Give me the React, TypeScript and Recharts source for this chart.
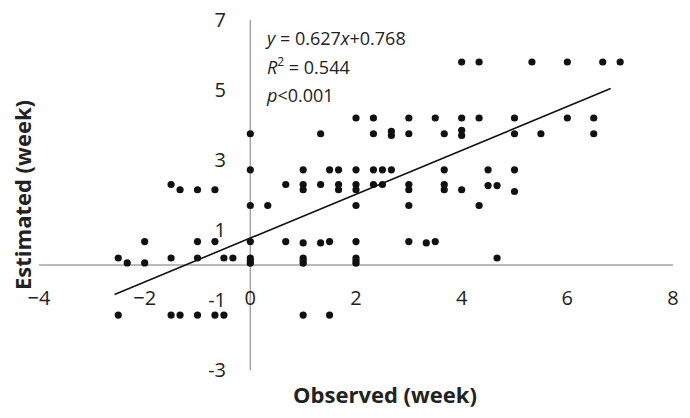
import React from "react";
import { ScatterChart, Scatter, XAxis, YAxis, ReferenceLine } from "recharts";

const observed: number[] = [
  4.0, 4.33, 5.33, 6.0, 6.67, 7.0,
  2.0, 2.33, 3.0, 3.5, 4.0, 4.33, 5.0, 6.0, 6.5,
  0, 1.33, 2.33, 2.67, 2.67, 3.0, 3.67, 4.0, 4.0, 5.0, 5.5, 6.5,
  0, 1.0, 1.5, 1.67, 2.0, 2.33, 2.5, 2.67, 3.67, 4.5, 5.0,
  -1.5, 0.67, 1.0, 1.33, 1.67, 2.0, 2.33, 2.5, 3.0, 3.67, 4.5, 4.67,
  -1.33, -1.0, -0.67, 1.0, 1.67, 2.0, 3.0, 3.67, 4.0, 5.0,
  0, 0.33, 2.0, 3.0, 4.33,
  -2.0, -1.0, -0.67, 0, 0.67, 1.0, 1.33, 1.5, 2.0, 3.0, 3.33, 3.5,
  -2.5, -1.5, -1.0, -0.5, -0.33, 0, 1.0, 2.0, 4.67,
  0, 1.0, 2.0,
  -2.33, -2.0, 0, 1.0, 2.0,
  -2.5, -1.5, -1.33, -1.0, -0.67, -0.5, 1.0, 1.5,
];
const estimated: number[] = [
  5.8, 5.8, 5.8, 5.8, 5.8, 5.8,
  4.2, 4.2, 4.2, 4.2, 4.2, 4.2, 4.2, 4.2, 4.2,
  3.75, 3.75, 3.75, 3.7, 3.82, 3.75, 3.75, 3.7, 3.85, 3.75, 3.75, 3.75,
  2.72, 2.72, 2.72, 2.72, 2.72, 2.72, 2.72, 2.72, 2.72, 2.72, 2.72,
  2.3, 2.3, 2.3, 2.3, 2.3, 2.3, 2.3, 2.3, 2.3, 2.3, 2.27, 2.27,
  2.15, 2.15, 2.15, 2.15, 2.15, 2.15, 2.15, 2.15, 2.15, 2.1,
  1.7, 1.7, 1.7, 1.7, 1.7,
  0.67, 0.67, 0.67, 0.67, 0.67, 0.63, 0.63, 0.67, 0.67, 0.67, 0.63, 0.67,
  0.2, 0.2, 0.2, 0.2, 0.2, 0.2, 0.2, 0.2, 0.2,
  0.12, 0.12, 0.12,
  0.06, 0.06, 0.05, 0.05, 0.05,
  -1.43, -1.43, -1.43, -1.43, -1.43, -1.43, -1.43, -1.43,
];

// Trend line end points (y = 0.627x + 0.768)
const trendX: number[] = [-2.57, 6.82];
const trendY: number[] = [-0.84, 5.04];

const xTicks: number[] = [-4, -2, 0, 2, 4, 6, 8];
const xTickLabels: string[] = ["\u22124", "\u22122", "0", "2", "4", "6", "8"];
const yTicks: number[] = [7, 5, 3, 1, -1, -3];
const yTickLabels: string[] = ["7", "5", "3", "1", "-1", "-3"];

const points = observed.map((x, i) => ({ x, y: estimated[i] }));

const FONT = "'Open Sans', 'Liberation Sans', sans-serif";

const renderXTick = (props: any) => {
  const { x, payload } = props;
  const idx = xTicks.indexOf(payload.value);
  return (
    <text x={x} y={298} dy="0.36em" textAnchor="middle" fontFamily={FONT} fontSize={20} fill="#222">
      {idx >= 0 ? xTickLabels[idx] : String(payload.value)}
    </text>
  );
};

const renderYTick = (props: any) => {
  const { y, payload } = props;
  const idx = yTicks.indexOf(payload.value);
  return (
    <text x={226} y={y} dy="0.36em" textAnchor="end" fontFamily={FONT} fontSize={20} fill="#222">
      {idx >= 0 ? yTickLabels[idx] : String(payload.value)}
    </text>
  );
};

const Dot = (props: any) => {
  const { cx, cy } = props;
  return <circle cx={cx} cy={cy} r={3.6} fill="#111" />;
};

export default function App() {
  return (
    <div style={{ position: "relative", width: 690, height: 418, margin: -8 }}>
      <ScatterChart width={690} height={418} margin={{ top: 20, right: 17, bottom: 18, left: 9 }}>
        <XAxis
          type="number"
          dataKey="x"
          domain={[-4, 8]}
          ticks={xTicks}
          interval={0}
          height={30}
          axisLine={false}
          tickLine={false}
          tick={renderXTick}
          allowDataOverflow
        />
        <YAxis
          type="number"
          dataKey="y"
          domain={[-3, 7]}
          ticks={yTicks}
          interval={0}
          width={30}
          axisLine={false}
          tickLine={false}
          tick={renderYTick}
          allowDataOverflow
        />
        <ReferenceLine x={0} stroke="#a3a3a3" strokeWidth={1.5} />
        <ReferenceLine y={0} stroke="#a3a3a3" strokeWidth={1.5} />
        <ReferenceLine
          segment={[
            { x: trendX[0], y: trendY[0] },
            { x: trendX[1], y: trendY[1] },
          ]}
          stroke="#111"
          strokeWidth={1.6}
        />
        <Scatter data={points} shape={<Dot />} isAnimationActive={false} />
      </ScatterChart>
      <svg
        width={690}
        height={418}
        style={{ position: "absolute", left: 0, top: 0, pointerEvents: "none" }}
      >
        <g fontFamily={FONT} fontSize={18} fill="#222">
          <text x={267} y={45}>
            <tspan fontStyle="italic">y</tspan>
            <tspan> = 0.627</tspan>
            <tspan fontStyle="italic">x</tspan>
            <tspan>+0.768</tspan>
          </text>
          <text x={267} y={74}>
            <tspan fontStyle="italic">R</tspan>
            <tspan fontSize={12} dy={-8}>2</tspan>
            <tspan dy={8}> = 0.544</tspan>
          </text>
          <text x={267} y={102}>
            <tspan fontStyle="italic">p</tspan>
            <tspan>&lt;0.001</tspan>
          </text>
        </g>
        <text
          x={385}
          y={395}
          textAnchor="middle"
          dy="0.36em"
          fontFamily={FONT}
          fontWeight="bold"
          fontSize={22}
          fill="#222"
        >
          Observed (week)
        </text>
        <text
          transform="translate(23,195) rotate(-90)"
          textAnchor="middle"
          dy="0.36em"
          fontFamily={FONT}
          fontWeight="bold"
          fontSize={22}
          fill="#222"
        >
          Estimated (week)
        </text>
      </svg>
    </div>
  );
}
